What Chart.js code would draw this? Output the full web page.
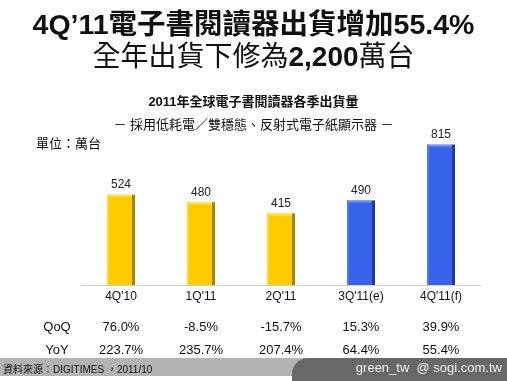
<!DOCTYPE html>
<html>
<head>
<meta charset="utf-8">
<script src="https://cdn.jsdelivr.net/npm/chart.js@4.4.1/dist/chart.umd.min.js"></script>
<style>
  html, body { margin: 0; padding: 0; background: #fff; }
  #wrap { position: relative; width: 507px; height: 381px; overflow: hidden;
    font-family: "Liberation Sans", Arial, "Noto Sans CJK TC", sans-serif; color: #111; }
  #wrap canvas { position: absolute; left: 0; top: 0; }
  .t { position: absolute; white-space: nowrap; }
  .title { left: 0; width: 507px; text-align: center; font-weight: bold; font-size: 28px; line-height: 34px; }
  .footer { position: absolute; left: 0; top: 358px; width: 507px; height: 18px; background: #b3b3b3; }
  .tab { position: absolute; left: 292px; top: 358px; width: 215px; height: 23px; background: #686868;
    border-top-left-radius: 16px; }
</style>
</head>
<body>
<div id="wrap">
  <canvas id="c" width="507" height="381"></canvas>
  <div class="t title" style="top:7px;font-size:28.5px">4Q’11電子書閱讀器出貨增加55.4%</div>
  <div class="t title" style="top:40px;font-weight:normal"><span>全年出貨下修為</span><b>2,200</b><span>萬台</span></div>
  <div class="t" style="left:0;width:507px;text-align:center;top:91px;font-size:13px;font-weight:bold">2011年全球電子書閱讀器各季出貨量</div>
  <div class="t" style="left:0;width:507px;text-align:center;top:114px;font-size:13px">－ 採用低耗電／雙穩態、反射式電子紙顯示器 －</div>
  <div class="t" style="left:36px;top:133px;font-size:13px">單位：萬台</div>
  <div class="footer"></div>
  <div class="tab"></div>
  <div class="t" style="left:3px;top:361px;font-size:10px;color:#111">資料來源：DIGITIMES ，2011/10</div>
  <div class="t" style="right:5px;top:360px;font-size:13px;color:#f0f0f0">green_tw&nbsp;&nbsp;@ sogi.com.tw</div>
</div>
<script>
const categories = ["4Q'10", "1Q'11", "2Q'11", "3Q'11(e)", "4Q'11(f)"];
const shipments = [524, 480, 415, 490, 815];
const qoq = ['76.0%', '-8.5%', '-15.7%', '15.3%', '39.9%'];
const yoy = ['223.7%', '235.7%', '207.4%', '64.4%', '55.4%'];
const isForecast = [false, false, false, true, true];

const FONT = '"Liberation Sans", Arial, sans-serif';

const decorate = {
  id: 'decorate',
  afterDatasetsDraw(chart) {
    const ctx = chart.ctx;
    const area = chart.chartArea;
    const xs = chart.scales.x;
    const meta = chart.getDatasetMeta(0);
    ctx.save();
    // bar shading
    meta.data.forEach((bar, i) => {
      const p = bar.getProps(['x', 'y', 'base', 'width'], true);
      const l = p.x - p.width / 2;
      const h = p.base - p.y;
      ctx.fillStyle = isForecast[i] ? '#1e3c9c' : '#a88400';
      ctx.fillRect(l + p.width - 3, p.y, 3, h);
      ctx.fillStyle = isForecast[i] ? '#6f8ff5' : '#ffe066';
      ctx.fillRect(l, p.y, p.width - 3, 2);
      ctx.fillStyle = isForecast[i] ? '#5579f0' : '#ffd633';
      ctx.fillRect(l, p.y, 2, h);
      // value label
      ctx.fillStyle = '#222';
      ctx.font = '12px ' + FONT;
      ctx.textAlign = 'center';
      ctx.textBaseline = 'bottom';
      ctx.fillText(String(shipments[i]), p.x, p.y - 4);
    });
    // baseline
    ctx.strokeStyle = '#cfcfcf';
    ctx.lineWidth = 1;
    ctx.beginPath();
    ctx.moveTo(area.left, area.bottom + 0.5);
    ctx.lineTo(area.right, area.bottom + 0.5);
    ctx.stroke();
    // category and growth rows
    ctx.fillStyle = '#111';
    ctx.textBaseline = 'middle';
    ctx.textAlign = 'center';
    categories.forEach((c, i) => {
      const x = xs.getPixelForValue(i);
      ctx.font = '12px ' + FONT;
      ctx.fillText(c, x, area.bottom + 12);
      ctx.font = '13px ' + FONT;
      ctx.fillText(qoq[i], x, 327);
      ctx.fillText(yoy[i], x, 350);
    });
    ctx.font = '13px ' + FONT;
    ctx.fillText('QoQ', 57, 327);
    ctx.fillText('YoY', 57, 350);
    ctx.restore();
  }
};

new Chart(document.getElementById('c'), {
  type: 'bar',
  data: {
    labels: categories,
    datasets: [{
      data: shipments,
      backgroundColor: isForecast.map(f => f ? '#3763ea' : '#ffcc00'),
      borderWidth: 0,
      categoryPercentage: 1,
      barPercentage: 0.35
    }]
  },
  options: {
    responsive: false,
    animation: false,
    layout: { padding: { left: 81, right: 26, top: 130, bottom: 96 } },
    plugins: { legend: { display: false }, tooltip: { enabled: false } },
    scales: {
      x: { display: false },
      y: { display: false, min: 0, max: 900 }
    }
  },
  plugins: [decorate]
});
</script>
</body>
</html>
